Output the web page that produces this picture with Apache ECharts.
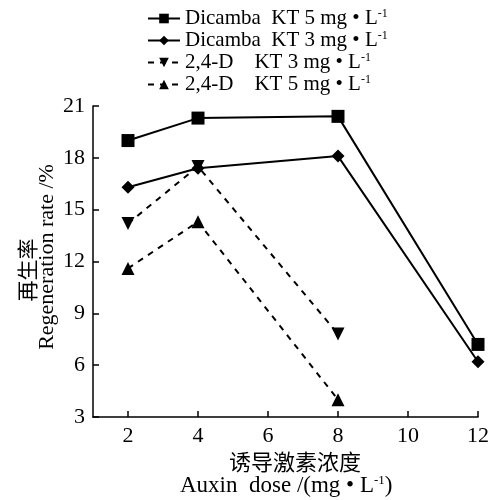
<!DOCTYPE html>
<html><head><meta charset="utf-8">
<script src="https://cdn.jsdelivr.net/npm/echarts@6/dist/echarts.min.js"></script>
<style>html,body{margin:0;padding:0;background:#fff}#c{width:492px;height:500px}</style>
</head><body><div id="c"></div>
<script>
const xCategories = [2, 4, 8, 12];
const dicamba5 = [19.0, 20.3, 20.4, 7.2];
const dicamba3 = [16.3, 17.4, 18.1, 6.2];
const d24_3 = [14.2, 17.5, 7.8];
const d24_5 = [11.6, 14.3, 4.0];
const seriesNames = ['Dicamba  KT 5 mg • L', 'Dicamba  KT 3 mg • L', '2,4-D    KT 3 mg • L', '2,4-D    KT 5 mg • L'];
const yTicks = [3, 6, 9, 12, 15, 18, 21];
const xTicks = [2, 4, 6, 8, 10, 12];

const serif = '"Liberation Serif","Times New Roman",serif';
const cjk = '"Noto Sans CJK SC",sans-serif';
function pairs(xs, ys){ return ys.map((v,i)=>[xs[i], v]); }

const chart = echarts.init(document.getElementById('c'));
const base = {type:'line', color:'#000', symbolSize:12, itemStyle:{color:'#000'}};
chart.setOption({
  animation:false,
  backgroundColor:'#fff',
  grid:{left:93, right:12, top:106, bottom:83},
  legend:{
    orient:'vertical', left:147, top:8, padding:0, itemGap:1, itemWidth:32, itemHeight:12,
    data: seriesNames,
    formatter: n => '{a|' + n + '}{s|-1}',
    textStyle:{color:'#000', rich:{
      a:{fontFamily:serif, fontSize:21, color:'#000', lineHeight:21},
      s:{fontFamily:serif, fontSize:12, color:'#000', verticalAlign:'top', lineHeight:21, padding:[0,0,8,0]}
    }}
  },
  xAxis:{
    type:'value', min:1, max:12, interval:1,
    axisLine:{lineStyle:{color:'#000', width:1.5}},
    axisTick:{inside:true, length:6, lineStyle:{color:'#000', width:1.5}, customValues: xTicks},
    axisLabel:{color:'#000', fontFamily:serif, fontSize:22, margin:8, customValues: xTicks},
    splitLine:{show:false}
  },
  yAxis:{
    type:'value', min:3, max:21, interval:3,
    axisLine:{show:true, lineStyle:{color:'#000', width:1.5}},
    axisTick:{show:true, inside:true, length:6, lineStyle:{color:'#000', width:1.5}},
    axisLabel:{color:'#000', fontFamily:serif, fontSize:22, margin:8},
    splitLine:{show:false}
  },
  graphic:[
    {type:'text', x:27, y:270, rotation:Math.PI/2, style:{text:'再生率', font:'21px "Noto Sans CJK SC"', fill:'#000', align:'center', verticalAlign:'middle'}},
    {type:'text', x:47, y:257, rotation:Math.PI/2, style:{text:'Regeneration rate /%', font:'22px "Liberation Serif"', fill:'#000', align:'center', verticalAlign:'middle'}},
    {type:'text', left:229, top:451, style:{text:'诱导激素浓度', font:'22px "Noto Sans CJK SC"', fill:'#000'}},
    {type:'text', left:180, top:474, style:{rich:{e:{fontFamily:serif, fontSize:23, fill:'#000'}, s:{fontFamily:serif, fontSize:13, fill:'#000', verticalAlign:'top'}}, text:'{e|Auxin  dose /(mg • L}{s|-1}{e|)}'}}
  ],
  series:[
    Object.assign({}, base, {name:seriesNames[0], data:pairs(xCategories, dicamba5), symbol:'rect', symbolSize:13, lineStyle:{color:'#000', width:2}}),
    Object.assign({}, base, {name:seriesNames[1], data:pairs(xCategories, dicamba3), symbol:'diamond', symbolSize:13, lineStyle:{color:'#000', width:2}}),
    Object.assign({}, base, {name:seriesNames[2], data:pairs(xCategories, d24_3), symbol:'triangle', symbolRotate:180, symbolSize:13, lineStyle:{color:'#000', width:2, type:[6,6]}}),
    Object.assign({}, base, {name:seriesNames[3], data:pairs(xCategories, d24_5), symbol:'triangle', symbolSize:13, lineStyle:{color:'#000', width:2, type:[6,6]}})
  ]
});
</script></body></html>
